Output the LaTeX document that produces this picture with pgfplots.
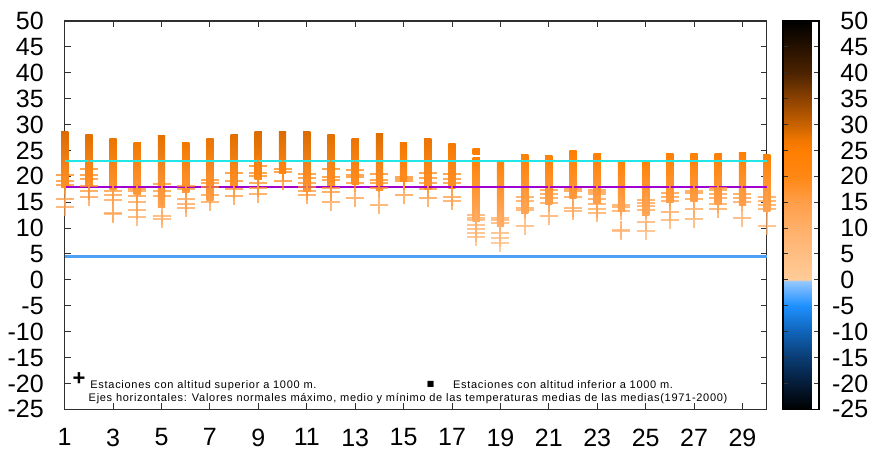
\documentclass[border=0pt]{standalone}
\usepackage{fontspec}
\setmainfont{Liberation Sans}
\newfontfamily\legfont[LetterSpace=6.5]{Liberation Sans}
\newfontfamily\symfont{DejaVu Sans}
\usepackage{pgfplots}
\pgfplotsset{compat=1.18}

\definecolor{axgray}{HTML}{303030}
\definecolor{lcyan}{HTML}{22E6E6}
\definecolor{lpurple}{HTML}{A000D0}
\definecolor{lblue}{HTML}{4DA0F5}

\pgfplotsset{
  colormap={temps}{
    rgb255(0pt)=(0,0,0)
    rgb255(5pt)=(5,28,56)
    rgb255(10pt)=(10,60,115)
    rgb255(15pt)=(16,100,185)
    rgb255(20pt)=(30,144,255)
    rgb255(24.8pt)=(150,200,255)
    rgb255(25pt)=(255,204,153)
    rgb255(30pt)=(255,190,130)
    rgb255(35pt)=(255,175,105)
    rgb255(40pt)=(255,158,72)
    rgb255(45pt)=(255,135,20)
    rgb255(50pt)=(255,126,0)
    rgb255(52pt)=(240,118,0)
    rgb255(55pt)=(200,98,0)
    rgb255(60pt)=(140,66,0)
    rgb255(65pt)=(75,35,0)
    rgb255(75pt)=(0,0,0)
  }
}

% bars: stations below 1000 m (range of values per day)
\pgfplotstableread{
d lo hi
1 17.8 28.6
2 18.0 28.1
3 17.4 27.3
4 16.4 26.6
5 14.0 27.9
6 16.8 26.6
7 15.4 27.3
8 18.0 28.1
9 19.3 28.6
10 20.6 28.6
11 17.0 28.6
12 18.0 28.1
13 18.5 27.3
14 17.2 28.3
15 19.0 26.6
16 17.4 27.3
17 17.7 26.3
18 11.2 23.6
18 24.3 25.4
19 10.3 22.6
20 12.9 24.3
21 14.5 24.0
22 15.8 25.0
23 14.8 24.5
24 13.2 22.8
25 12.4 22.8
26 14.9 24.5
27 15.1 24.5
28 14.5 24.5
29 14.3 24.6
30 13.2 24.3
}\bars

\begin{document}
\begin{tikzpicture}
\path[use as bounding box] (-32.35pt,-22.85pt) rectangle (402.15pt,204.65pt);
\begin{axis}[
  at={(0,0)}, anchor=south west,
  scale only axis, width=351pt, height=194.15pt,
  xmin=1, xmax=30, ymin=-25, ymax=50,
  xtick={1,3,...,29}, ytick={-25,-20,...,50},
  tick align=inside, major tick length=3pt,
  every tick/.style={axgray, line width=0.5pt},
  axis line style={axgray, line width=0.6pt},
  tick label style={font=\fontsize{12.5}{14}\selectfont},
  /pgf/number format/assume math mode=true,
  yticklabel style={anchor=east, inner sep=0pt, xshift=-10.3pt},
  xticklabel style={anchor=north, inner sep=0pt, yshift=-9.5pt},
  clip=false,
  colormap name=temps,
  point meta min=-25, point meta max=50,
  colorbar,
  colorbar style={
    at={(parent axis.north east)}, anchor=north west, xshift={8.2pt-0.3cm},
    scale only axis, width=18pt, height=194.15pt,
    ytick={-25,-20,...,50},
    yticklabels={\llap{-}25,\llap{-}20,\llap{-}15,\llap{-}10,\llap{-}5,0,5,10,15,20,25,30,35,40,45,50},
    yticklabel pos=right,
    ytick pos=both,
    yticklabel style={anchor=west, inner sep=0pt, xshift=10.5pt, font=\fontsize{12.5}{14}\selectfont},
    tick align=inside, major tick length=2.5pt,
    every tick/.style={axgray, line width=0.5pt},
    axis line style={black, line width=0.7pt},
  },
]
% bars, shaded through the colormap from their lowest to their highest value
\pgfplotsinvokeforeach{0,...,30}{
  \pgfplotstablegetelem{#1}{d}\of\bars \let\dd=\pgfplotsretval
  \pgfplotstablegetelem{#1}{lo}\of\bars \let\lo=\pgfplotsretval
  \pgfplotstablegetelem{#1}{hi}\of\bars \let\hi=\pgfplotsretval
  \pgfmathtruncatemacro\lom{(\lo+25)/75*1000}
  \pgfplotscolormapdefinemappedcolor{\lom}
  \xglobal\colorlet{barlo#1}{mapped color}
  \pgfmathtruncatemacro\mim{((\lo+\hi)/2+25)/75*1000}
  \pgfplotscolormapdefinemappedcolor{\mim}
  \xglobal\colorlet{barmi#1}{mapped color}
  \pgfmathtruncatemacro\him{(\hi+25)/75*1000}
  \pgfplotscolormapdefinemappedcolor{\him}
  \xglobal\colorlet{barhi#1}{mapped color}
  \edef\tmp{\noexpand\addplot[draw=none, bottom color=barlo#1, middle color=barmi#1, top color=barhi#1]
    coordinates {(\dd-0.15,\lo) (\dd+0.15,\lo) (\dd+0.15,\hi) (\dd-0.15,\hi)} -- cycle;}
  \tmp
}
% crosses: stations above 1000 m
\addplot[scatter, only marks, mark=+, mark size=4.5pt, point meta=y,
  scatter/use mapped color={draw=mapped color, fill=mapped color},
  mark options={line width=1pt, draw opacity=0.72}] table {
d v
1 20.3
1 19.0
1 18.3
1 15.6
1 14.0
2 21.4
2 20.3
2 19.5
2 18.2
2 17.2
2 16.1
3 17.2
3 16.4
3 15.4
3 12.9
3 12.7
4 17.6
4 17.1
4 16.2
4 15.0
4 13.5
4 12.2
5 18.5
5 17.2
5 16.2
5 12.4
5 11.8
6 18.2
6 17.6
6 15.6
6 14.6
6 13.8
7 19.2
7 18.7
7 18.0
7 16.4
7 15.0
8 20.6
8 19.0
8 17.6
8 16.2
9 21.9
9 20.6
9 20.0
9 18.8
9 17.7
9 16.6
10 21.4
10 20.8
10 19.0
11 20.4
11 19.6
11 18.8
11 17.9
11 17.1
11 16.3
12 21.4
12 19.8
12 19.3
12 17.7
12 16.9
12 15.1
13 21.2
13 20.3
13 19.9
13 18.7
13 15.9
14 20.5
14 19.3
14 18.8
14 17.7
14 14.5
15 19.9
15 19.5
15 19.1
15 16.4
16 20.6
16 19.6
16 18.7
16 17.6
16 15.9
17 20.4
17 19.4
17 18.7
17 16.1
17 15.3
18 12.5
18 12.0
18 11.6
18 10.6
18 9.8
18 9.0
18 8.2
19 12.0
19 11.5
19 11.0
19 9.1
19 8.0
19 7.1
20 16.1
20 15.2
20 13.9
20 13.5
20 10.4
21 17.4
21 16.6
21 15.8
21 14.8
21 12.4
22 17.6
22 17.2
22 16.0
22 13.8
22 13.3
23 17.4
23 17.0
23 16.6
23 15.6
23 14.6
23 13.6
23 12.9
24 14.5
24 14.0
24 13.3
24 9.6
24 9.4
25 15.4
25 14.8
25 14.3
25 13.5
25 11.2
25 9.4
26 16.8
26 16.1
26 15.2
26 13.2
26 11.6
27 17.2
27 16.8
27 15.6
27 13.6
27 11.8
28 17.7
28 17.3
28 16.6
28 15.8
28 14.7
28 13.7
29 16.6
29 15.8
29 15.0
29 12.0
30 16.1
30 15.2
30 14.5
30 13.7
30 10.4
};
% horizontal reference lines (max, mean, min normals)
\addplot[lcyan, line width=1pt] coordinates {(1,23.0) (30,23.0)};
\addplot[lpurple, line width=1pt] coordinates {(1,17.9) (30,17.9)};
\addplot[lblue, line width=1.2pt] coordinates {(1,4.5) (30,4.5)};
\end{axis}
% legend-like annotations
\node[inner sep=0pt] at (7.2pt,15.0pt) {\fontsize{11}{12}\selectfont\bfseries +};
\node[anchor=base west, inner sep=0pt] at (12.65pt,10.15pt) {\fontsize{5.5}{6.5}\legfont Estaciones con altitud superior a 1000 m.};
\node[inner sep=0pt] at (183.0pt,12.2pt) {\fontsize{4}{5}\symfont ■};
\node[anchor=base west, inner sep=0pt] at (194.0pt,10.15pt) {\fontsize{5.5}{6.5}\legfont Estaciones con altitud inferior a 1000 m.};
\node[anchor=base west, inner sep=0pt] at (11.8pt,3.65pt) {\fontsize{5.5}{6.5}\legfont Ejes horizontales: Valores normales máximo, medio y mínimo de las temperaturas medias de las medias(1971-2000)};
\end{tikzpicture}
\end{document}
